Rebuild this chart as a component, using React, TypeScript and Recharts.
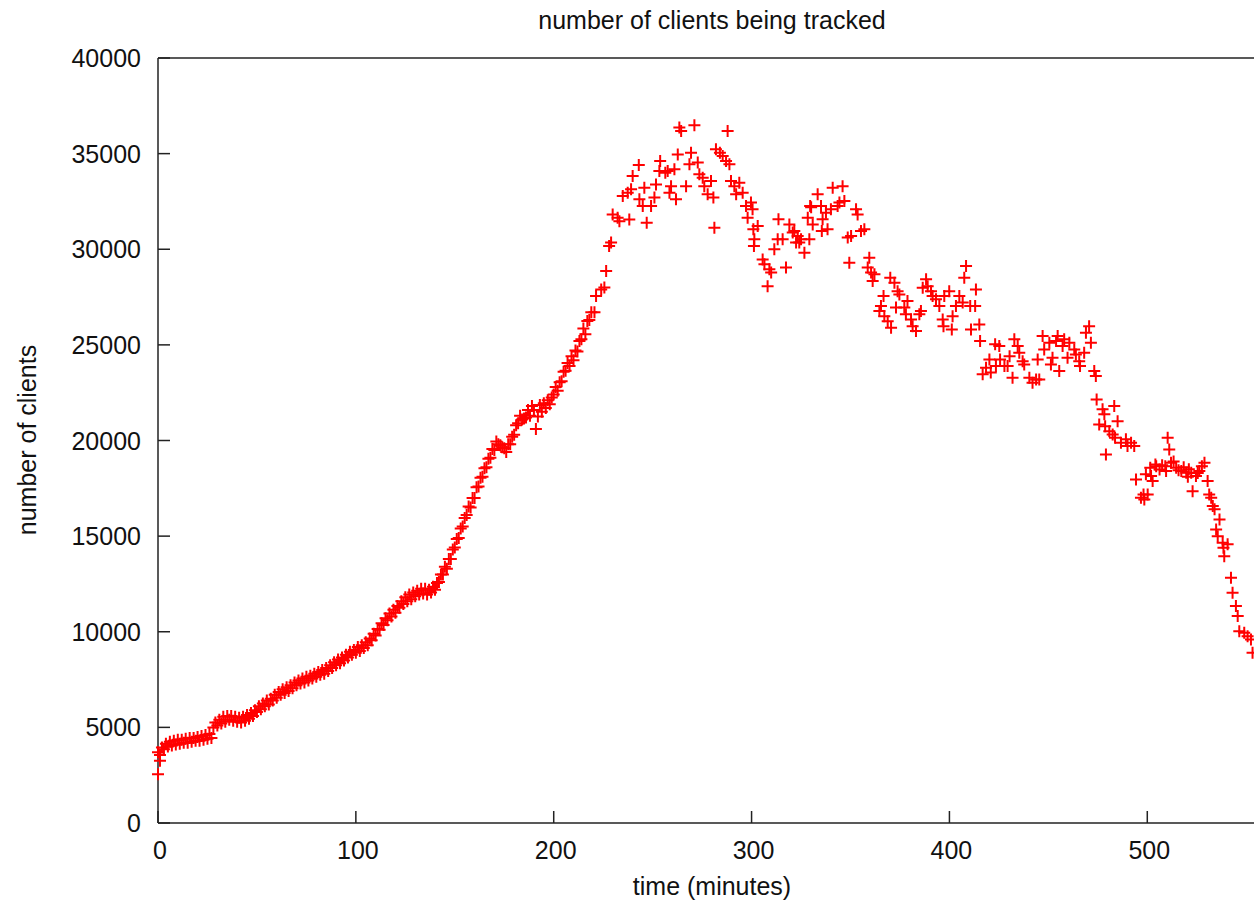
import React from "react";
import { ScatterChart, Scatter, XAxis, YAxis } from "recharts";

// one reading per minute, t = 0..219 (dense part of the curve)
const riseClients = [
  3700, 3550, 3950, 3850, 4150, 4000, 4250, 4050, 4300, 4100,
  4350, 4150, 4350, 4200, 4400, 4200, 4450, 4250, 4450, 4300,
  4500, 4300, 4550, 4350, 4600, 4400, 4650, 4450, 5000, 5250,
  5100, 5400, 5200, 5550, 5300, 5600, 5400, 5600, 5350, 5550,
  5300, 5500, 5250, 5550, 5350, 5650, 5450, 5750, 5600, 5900,
  5800, 6100, 5950, 6250, 6100, 6400, 6200, 6500, 6400, 6700,
  6550, 6850, 6700, 7000, 6800, 7100, 6900, 7200, 7050, 7350,
  7200, 7450, 7300, 7550, 7350, 7650, 7450, 7700, 7550, 7800,
  7650, 7900, 7750, 8000, 7800, 8100, 7950, 8250, 8100, 8400,
  8250, 8550, 8350, 8650, 8500, 8800, 8650, 8950, 8800, 9050,
  8900, 9200, 9000, 9300, 9150, 9450, 9300, 9650, 9550, 9900,
  9800, 10150, 10100, 10450, 10350, 10700, 10600, 10950, 10800, 11150,
  11000, 11350, 11250, 11600, 11450, 11800, 11600, 11950, 11700, 12050,
  11850, 12150, 11950, 12250, 12000, 12250, 11950, 12200, 12050, 12350,
  12200, 12550, 12600, 13000, 13000, 13400, 13300, 13800, 13800, 14300,
  14400, 14850, 14900, 15400, 15500, 15950, 16100, 16550, 16500, 17000,
  17000, 17550, 17600, 18050, 18100, 18550, 18600, 19050, 19100, 19550,
  19500, 19950, 19800, 19750, 19650, 19600, 19400, 19800, 19800, 20200,
  20300, 20800, 20900, 21300, 21100, 21150, 21200, 21600, 21300, 21800,
  21600, 20600, 21250, 21850, 21500, 21950, 21700, 22100, 21900, 22250,
  22400, 22800, 22600, 23050, 23100, 23600, 23650, 24050, 23900, 24400,
  24200, 24700, 24650, 25200, 25300, 25850, 25550, 26250, 26300, 26700,
];

const startMinutes = [0, 1];
const startClients = [2550, 3250];

const peakMinutes = [
  220.6, 221.4, 224.0, 225.6, 226.5, 228.0, 229.0, 229.8, 232.3, 233.2,
  234.9, 237.4, 238.2, 239.1, 239.9, 243.0, 243.3, 245.0, 245.8, 247.0,
  249.2, 250.9, 251.7, 253.4, 253.8, 256.4, 257.6, 258.5, 259.3, 261.0,
  261.8, 262.7, 263.5, 264.4, 266.9, 268.6, 269.4, 271.1, 272.8, 273.6,
  275.3, 276.1, 277.8, 279.5, 280.7, 281.2, 282.0, 284.0, 285.4, 287.1,
  287.9, 288.8, 289.6, 291.3, 292.2, 293.8, 295.5, 297.2, 298.0, 299.7,
  300.5, 300.9, 301.2, 301.4, 303.1, 305.6, 306.5, 308.1, 309.0, 309.9,
  311.5, 313.2, 313.6, 315.7, 317.4, 319.1, 320.8, 321.6, 322.5, 323.3,
  324.1, 325.0, 326.7, 328.4, 329.2, 329.6,
];
const peakClients = [
  26700, 27550, 27900, 28000, 28860, 30170, 30350, 31820, 31650, 31470,
  32780, 32960, 31560, 33140, 33830, 34400, 32610, 32260, 33220, 31390,
  32260, 32700, 33390, 34090, 34610, 34000, 34090, 32960, 33300, 34180,
  32610, 34960, 36360, 36180, 33300, 34440, 35050, 36480, 34530, 33920,
  33740, 33300, 32870, 33570, 32700, 31130, 35230, 35050, 34870, 34610,
  36180, 34440, 33570, 33300, 32870, 33480, 32960, 32260, 31650, 32440,
  32090, 31040, 30170, 30520, 31210, 29470, 29210, 28070, 28950, 28780,
  30000, 30520, 31570, 30520, 29040, 31300, 30870, 30950, 30350, 30690,
  30350, 30520, 29820, 31650, 30520, 32260,
];

const plateauMinutes = [
  330.1, 330.9, 333.4, 335.1, 335.5, 335.9, 337.6, 338.4, 340.1, 341.0,
  343.5, 344.4, 346.0, 346.9, 348.6, 349.4, 350.3, 352.8, 353.6, 355.3,
  357.0, 358.7, 359.5, 360.4, 361.2, 362.1, 364.6, 365.4, 366.7, 367.1,
  368.8, 370.1, 370.5, 372.2, 373.0, 373.8, 374.7, 377.2, 378.0, 378.8,
  380.6, 381.4, 383.1, 384.8, 385.6, 386.5, 388.2, 389.0, 390.7, 391.5,
  393.2, 394.9, 396.6, 397.0, 397.4, 399.9, 401.2, 401.6, 403.3, 405.0,
  406.7, 407.5, 408.4, 410.5, 410.9, 413.0, 413.4, 415.1, 415.5, 416.8,
  418.5, 420.2, 420.9, 423.1, 423.5, 425.2, 425.6, 427.8, 429.4, 430.4,
  431.9, 432.8, 434.5, 435.3, 437.0, 437.8, 440.4, 442.0, 443.8, 444.6,
  445.4, 447.1, 447.9, 450.5, 451.3, 452.1, 453.9, 454.7, 455.5, 457.2,
  458.0, 459.7, 460.6, 463.1, 463.9, 465.6, 466.0, 468.1, 469.0, 470.6,
];
const plateauClients = [
  32200, 31300, 32870, 32260, 30950, 31570, 31910, 31040, 32090, 33220,
  32260, 32440, 33300, 32520, 30610, 29300, 30690, 32090, 31820, 30950,
  31040, 29040, 29560, 28780, 28340, 28690, 26770, 27030, 27550, 26500,
  26240, 28510, 25900, 28250, 26950, 27810, 27640, 26950, 26600, 27290,
  26330, 25980, 25720, 26600, 26770, 27990, 28430, 28070, 27810, 27550,
  27380, 27030, 26330, 25980, 27550, 27810, 25810, 26500, 27030, 27550,
  27210, 28510, 29120, 27030, 25810, 27030, 27900, 26070, 25200, 23460,
  23810, 24240, 23550, 25030, 23890, 24940, 24240, 23890, 23890, 24410,
  23280, 25290, 24940, 24590, 24150, 23980, 23280, 23020, 23190, 24240,
  23190, 25460, 24760, 25110, 23980, 24330, 25200, 25460, 23630, 24940,
  25290, 24330, 25110, 24760, 24500, 24150, 23890, 24590, 25640, 25980,
];

const declineMinutes = [
  471.5, 473.2, 474.0, 474.4, 475.7, 477.4, 478.3, 478.7, 479.1, 480.8,
  482.5, 483.3, 483.7, 485.0, 486.7, 489.2, 490.0, 491.8, 493.4, 494.3,
  496.8, 498.1, 498.5, 499.3, 500.2, 501.5, 501.9, 502.7, 504.1, 504.5,
  506.2, 507.5, 509.1, 509.5, 510.3, 511.1, 512.0, 513.3, 514.6, 515.8,
  517.2, 518.4, 519.7, 520.5, 521.0, 522.2, 522.9, 524.6, 525.5, 526.3,
  527.6, 528.9, 530.5, 531.3, 532.3, 533.1, 534.0, 534.8, 535.6, 536.5,
  538.1, 538.5, 538.9, 540.6, 542.3, 543.1, 544.8, 545.7, 546.5, 549.0,
  550.7, 552.4, 553.2,
];
const declineClients = [
  25110, 23630, 23370, 22150, 20840, 21630, 21370, 20750, 19270, 20490,
  20320, 21800, 20140, 21010, 19880, 20060, 19710, 19880, 19710, 17960,
  17010, 17180, 16920, 18230, 17180, 18580, 18140, 17880, 18750, 18660,
  18490, 18700, 18660, 18400, 20140, 19530, 18840, 18900, 18580, 18450,
  18400, 18600, 18320, 18100, 18500, 18320, 17350, 18140, 18300, 18400,
  18650, 18840, 17880, 17180, 17010, 16570, 16400, 15350, 15000, 15870,
  14650, 14390, 13950, 14570, 12820, 12040, 11340, 10820, 10030, 9950,
  9770, 9600, 8900,
];

const xTicks = [0, 100, 200, 300, 400, 500];
const yTicks = [0, 5000, 10000, 15000, 20000, 25000, 30000, 35000, 40000];

const zip = (ts: number[], ns: number[]) =>
  ts.slice(0, Math.min(ts.length, ns.length)).map((t, i) => ({ t, n: ns[i] }));

const points = [
  ...zip(startMinutes, startClients),
  ...riseClients.map((n, t) => ({ t, n })),
  ...zip(peakMinutes, peakClients),
  ...zip(plateauMinutes, plateauClients),
  ...zip(declineMinutes, declineClients),
];

const FONT = '"Liberation Sans", Arial, sans-serif';
const INK = "#111";
const AXIS = "#222";
const TICK = 12;
const FS = 25;

const Cross = (p: any) => {
  const { cx, cy } = p;
  if (cx == null || cy == null) return <g />;
  return (
    <path
      d={`M${cx - 6},${cy}H${cx + 6}M${cx},${cy - 6}V${cy + 6}`}
      stroke="#ff0000"
      strokeWidth={2}
      fill="none"
    />
  );
};

const BottomTick = ({ x, y, payload }: any) => (
  <g>
    <line x1={x} y1={y} x2={x} y2={y - TICK} stroke={AXIS} strokeWidth={1.5} />
    <text x={x + 2} y={y + 27} textAnchor="middle" dominantBaseline="central" fontSize={FS} fontFamily={FONT} fill={INK}>
      {payload.value}
    </text>
  </g>
);

const LeftTick = ({ x, y, payload }: any) => (
  <g>
    <line x1={x} y1={y} x2={x + TICK} y2={y} stroke={AXIS} strokeWidth={1.5} />
    <text x={x - 17} y={y} textAnchor="end" dominantBaseline="central" fontSize={FS} fontFamily={FONT} fill={INK}>
      {payload.value}
    </text>
  </g>
);

const TopTick = ({ x, y }: any) => (
  <line x1={x} y1={y} x2={x} y2={y + TICK} stroke={AXIS} strokeWidth={1.5} />
);

const RightTick = ({ x, y }: any) => (
  <line x1={x} y1={y} x2={x - TICK} y2={y} stroke={AXIS} strokeWidth={1.5} />
);

const axisLine = { stroke: AXIS, strokeWidth: 1.5 };

export default function App() {
  return (
    <div
      style={{
        position: "fixed",
        left: 0,
        top: 0,
        width: 1254,
        height: 902,
        overflow: "hidden",
        background: "#fff",
        fontFamily: FONT,
        color: INK,
      }}
    >
      <ScatterChart width={1350} height={902} margin={{ top: 28, right: 24, bottom: 49, left: 98 }}>
        <XAxis
          type="number"
          dataKey="t"
          domain={[0, 560]}
          ticks={xTicks}
          interval={0}
          height={30}
          tickSize={0}
          tickMargin={0}
          tickLine={false}
          axisLine={axisLine}
          tick={<BottomTick />}
        />
        <YAxis
          type="number"
          dataKey="n"
          domain={[0, 40000]}
          ticks={yTicks}
          interval={0}
          width={60}
          tickSize={0}
          tickMargin={0}
          tickLine={false}
          axisLine={axisLine}
          tick={<LeftTick />}
        />
        <XAxis
          xAxisId="top"
          orientation="top"
          type="number"
          dataKey="t"
          domain={[0, 560]}
          ticks={xTicks}
          interval={0}
          height={30}
          tickSize={0}
          tickMargin={0}
          tickLine={false}
          axisLine={axisLine}
          tick={<TopTick />}
        />
        <YAxis
          yAxisId="right"
          orientation="right"
          type="number"
          dataKey="n"
          domain={[0, 40000]}
          ticks={yTicks}
          interval={0}
          width={60}
          tickSize={0}
          tickMargin={0}
          tickLine={false}
          axisLine={axisLine}
          tick={<RightTick />}
        />
        <Scatter data={points} shape={Cross} isAnimationActive={false} />
      </ScatterChart>

      <div style={{ position: "absolute", left: 0, width: 1424, top: 6, textAlign: "center", fontSize: FS, lineHeight: "28px" }}>
        number of clients being tracked
      </div>
      <div style={{ position: "absolute", left: 0, width: 1424, top: 872, textAlign: "center", fontSize: FS, lineHeight: "28px" }}>
        time (minutes)
      </div>
      <div
        style={{
          position: "absolute",
          left: 27,
          top: 440,
          transform: "translate(-50%, -50%) rotate(-90deg)",
          whiteSpace: "nowrap",
          fontSize: FS,
          lineHeight: "28px",
        }}
      >
        number of clients
      </div>
    </div>
  );
}
